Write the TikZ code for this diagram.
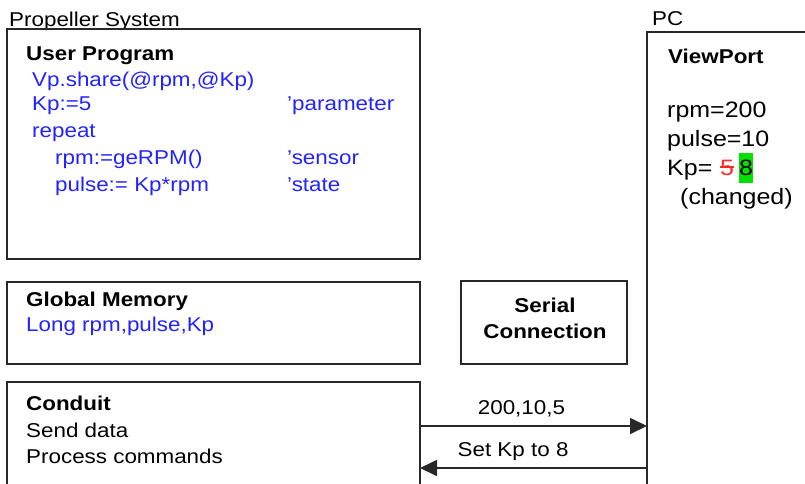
\documentclass[tikz,border=0pt]{standalone}
\usepackage{fontspec}
\setmainfont{Liberation Sans}
\usetikzlibrary{arrows.meta}
\definecolor{codeblue}{RGB}{35,35,255}
\definecolor{linegray}{RGB}{40,40,40}
\definecolor{strikered}{RGB}{255,40,40}
\definecolor{hlgreen}{RGB}{0,225,0}
\newcommand\sx[1]{\scalebox{1.12}[1]{#1}}
\tikzset{
  box/.style={draw=linegray, line width=1.7pt, rectangle, inner sep=0pt, outer sep=0pt, anchor=north west},
  txt/.style={anchor=base west, inner sep=0pt, font=\fontsize{20}{24}\selectfont},
  code/.style={txt, text=codeblue},
  big/.style={anchor=base west, inner sep=0pt, font=\fontsize{22.3}{27}\selectfont},
  arr/.style={draw=linegray, line width=1.7pt, -{Triangle[length=17pt,width=16pt]}},
  lbl/.style={anchor=base, inner sep=0pt, font=\fontsize{20}{24}\selectfont, yshift=12pt}
}
\begin{document}
\begin{tikzpicture}[x=1pt, y=-1pt]
\useasboundingbox (0,0) rectangle (805,483);
\clip (0,0) rectangle (805,483);
\fill[white] (0,0) rectangle (805,483);

% group labels
\node[txt] (prop) at (9,26) {\sx{Propeller System}};
\node[txt] (pclbl) at (652,25) {\sx{PC}};

% boxes
\node[box, minimum width=413pt, minimum height=230pt] (user) at (7,29) {};
\node[box, minimum width=413pt, minimum height=82pt] (glob) at (7,282) {};
\node[box, minimum width=413pt, minimum height=140pt] (conduit) at (7,382) {};
\node[box, minimum width=166pt, minimum height=83pt] (serial) at (461,281) {};
\node[box, minimum width=210pt, minimum height=500pt] (pc) at (647,32) {};

% user program
\node[txt] (upt) at (26,60) {\sx{\bfseries User Program}};
\node[code] (u1) at (32,86) {\sx{Vp.share(@rpm,@Kp)}};
\node[code] (u2) at (32,110) {\sx{Kp:=5}};
\node[code] (u2c) at (287,110) {\sx{'parameter}};
\node[code] (u3) at (32,137) {\sx{repeat}};
\node[code] (u4) at (55,164) {\sx{rpm:=geRPM()}};
\node[code] (u4c) at (287,164) {\sx{'sensor}};
\node[code] (u5) at (55,191) {\sx{pulse:= Kp*rpm}};
\node[code] (u5c) at (287,191) {\sx{'state}};

% global memory
\node[txt] (gmt) at (26,306) {\sx{\bfseries Global Memory}};
\node[code] (g1) at (26,331) {\sx{Long rpm,pulse,Kp}};

% conduit
\node[txt] (cdt) at (26,410) {\sx{\bfseries Conduit}};
\node[txt] (c1) at (26,437) {\sx{Send data}};
\node[txt] (c2) at (26,463) {\sx{Process commands}};

% serial
\node[txt, anchor=base] (s1t) at (545,312) {\sx{\bfseries Serial}};
\node[txt, anchor=base] (s2t) at (545,338) {\sx{\bfseries Connection}};

% viewport
\node[txt] (vpt) at (668,63) {\sx{\bfseries ViewPort}};
\node[big] (v1) at (667,117) {\sx{rpm=200}};
\node[big] (v2) at (667,146) {\sx{pulse=10}};
\node[big] (v3) at (667,175) {\sx{Kp=}};
\node[big, text=strikered] (v5) at (720,175) {\sx{5}};
\draw[strikered, line width=1.6pt] ([yshift=8pt]v5.base west) -- ([yshift=8pt]v5.base east);
\node[big, fill=hlgreen, text height=22pt, text depth=8pt] (v8) at (739,175) {\sx{8}};
\node[big] (v4) at (680,204) {\sx{(changed)}};

% connectors
\coordinate (a1) at ([yshift=26pt]conduit.east);
\coordinate (a2) at ([yshift=-16pt]conduit.east);
\draw[arr] (a1) -- node[lbl, pos=0.447] (l1) {\sx{200,10,5}} (a1 -| pc.west);
\draw[arr] (a2 -| pc.west) -- node[lbl, pos=0.59] (l2) {\sx{Set Kp to 8}} (a2);
\end{tikzpicture}
\end{document}
